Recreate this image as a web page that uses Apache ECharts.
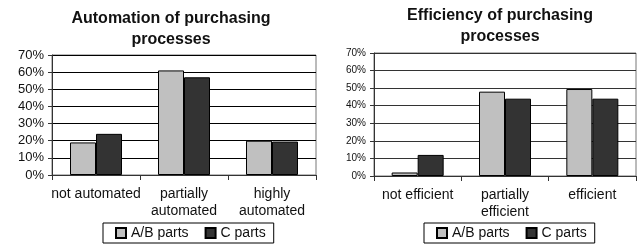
<!DOCTYPE html>
<html style="height: 100%;width:100%">
<head>
<meta charset="utf-8">
</head>
<body style="height: 100%; width:100%; margin:0">
<div id="chart-panel" style="width: 642px;height: 247px"></div>
<script type="text/javascript" src="https://cdn.jsdelivr.net/npm/echarts@6/dist/echarts.min.js"></script>
<script type="text/javascript">
// data
var autoCategories = ['not automated', 'partially\nautomated', 'highly\nautomated'];
var autoAB = [19, 61, 20];
var autoC = [24, 57, 19.5];

var effCategories = ['not efficient', 'partially\nefficient', 'efficient'];
var effAB = [2, 48, 49.5];
var effC = [12, 44, 44];

var seriesNames = ['A/B parts', 'C parts'];
var yTicks = {min: 0, max: 70, interval: 10};

var myChart = echarts.init(document.getElementById('chart-panel'));
var font = 'Liberation Sans, Arial, sans-serif';

function xAxisFor(idx, cats, size) {
    return {
        type: 'category',
        gridIndex: idx,
        data: cats,
        axisLine: {lineStyle: {color: '#333', width: 1}},
        axisTick: {show: true, length: 5, lineStyle: {color: '#333'}},
        axisLabel: {color: '#111', fontFamily: font, fontSize: size, margin: 11, lineHeight: 17, interval: 0}
    };
}
function yAxisFor(idx, size, gridColor) {
    return {
        type: 'value',
        gridIndex: idx,
        min: yTicks.min,
        max: yTicks.max,
        interval: yTicks.interval,
        axisLine: {show: true, lineStyle: {color: '#333'}},
        axisTick: {show: true, length: 4, lineStyle: {color: '#333'}},
        axisLabel: {formatter: '{value}%', color: '#111', fontFamily: font, fontSize: size, margin: 8},
        splitLine: {show: true, lineStyle: {color: gridColor, width: 1}}
    };
}
function barSeries(name, idx, data, color) {
    return {
        name: name,
        type: 'bar',
        xAxisIndex: idx,
        yAxisIndex: idx,
        data: data,
        barWidth: 26,
        barGap: '0%',
        itemStyle: {color: color, borderColor: '#000', borderWidth: 1},
        animation: false
    };
}
function legendFor(left) {
    return {
        data: seriesNames,
        left: left,
        top: 223,
        orient: 'horizontal',
        itemWidth: 10,
        itemHeight: 10,
        itemGap: 16,
        padding: [3, 8, 3, 12],
        borderColor: '#000',
        borderWidth: 1,
        icon: 'rect',
        textStyle: {color: '#111', fontFamily: font, fontSize: 14}
    };
}

var option = {
    backgroundColor: '#fff',
    title: [{
        text: 'Automation of purchasing\nprocesses',
        left: 166,
        top: 3,
        textAlign: 'center',
        textStyle: {color: '#111', fontFamily: font, fontSize: 16, fontWeight: 'bold', lineHeight: 21}
    }, {
        text: 'Efficiency of purchasing\nprocesses',
        left: 495,
        top: 0,
        textAlign: 'center',
        textStyle: {color: '#111', fontFamily: font, fontSize: 16, fontWeight: 'bold', lineHeight: 21}
    }],
    legend: [legendFor(103), legendFor(424)],
    grid: [
        {left: 52, top: 55, width: 264, height: 120, show: true, borderColor: '#777', borderWidth: 1},
        {left: 374, top: 53, width: 262, height: 123, show: true, borderColor: '#777', borderWidth: 1}
    ],
    xAxis: [xAxisFor(0, autoCategories, 14), xAxisFor(1, effCategories, 14)],
    yAxis: [yAxisFor(0, 13, '#000'), yAxisFor(1, 10, '#333')],
    series: [
        barSeries(seriesNames[0], 0, autoAB, '#c0c0c0'),
        barSeries(seriesNames[1], 0, autoC, '#333333'),
        barSeries(seriesNames[0], 1, effAB, '#c0c0c0'),
        barSeries(seriesNames[1], 1, effC, '#333333')
    ]
};
myChart.setOption(option);
</script>
</body>
</html>
